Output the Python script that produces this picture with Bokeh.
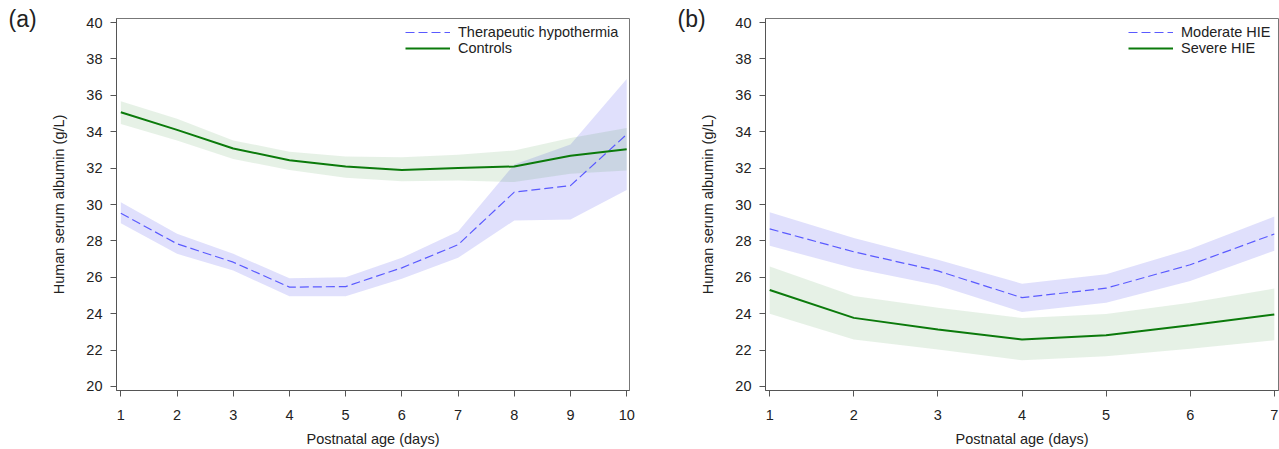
from bokeh.plotting import figure
from bokeh.layouts import row
from bokeh.models import Range1d, Legend, LegendItem, Title, FixedTicker
from bokeh.embed import file_html
from bokeh.resources import INLINE

# ---------------- data ----------------
days_a = [1, 2, 3, 4, 5, 6, 7, 8, 9, 10]
th_mean = [29.52, 27.84, 26.83, 25.46, 25.49, 26.52, 27.79, 30.68, 31.04, 33.85]
th_lo = [28.97, 27.29, 26.37, 24.96, 24.96, 25.92, 27.07, 29.12, 29.18, 30.80]
th_hi = [30.13, 28.39, 27.29, 25.95, 26.00, 27.07, 28.52, 32.20, 33.30, 36.90]
ct_mean = [35.07, 34.10, 33.08, 32.43, 32.09, 31.90, 32.00, 32.09, 32.68, 33.04]
ct_lo = [34.43, 33.52, 32.50, 31.90, 31.47, 31.28, 31.32, 31.23, 31.69, 31.87]
ct_hi = [35.68, 34.71, 33.52, 32.90, 32.64, 32.60, 32.73, 32.97, 33.66, 34.21]

days_b = [1, 2, 3, 4, 5, 6, 7]
mod_mean = [28.66, 27.40, 26.35, 24.88, 25.40, 26.69, 28.38]
mod_lo = [27.73, 26.50, 25.56, 24.09, 24.60, 25.80, 27.46]
mod_hi = [29.57, 28.16, 26.96, 25.65, 26.17, 27.55, 29.34]
sev_mean = [25.30, 23.77, 23.13, 22.58, 22.82, 23.37, 23.96]
sev_lo = [24.00, 22.58, 22.03, 21.44, 21.66, 22.08, 22.54]
sev_hi = [26.59, 24.97, 24.33, 23.77, 23.99, 24.60, 25.38]

y_ticks = [20, 22, 24, 26, 28, 30, 32, 34, 36, 38, 40]
names_a = ["Therapeutic hypothermia", "Controls"]
names_b = ["Moderate HIE", "Severe HIE"]
y_title = "Human serum albumin (g/L)"
x_title = "Postnatal age (days)"
tags = ["(a)", "(b)"]

FONT = "Liberation Sans"
FS = "14.5px"
BLUE = "#5a5aff"
BLUE_FILL = "#6666ee"
GREEN = "#0b7a0b"
GREEN_FILL = "#2e8b2e"
AXIS = "#555555"
TXT = "#222222"
H = 449


def tag_fig(width, text, ox):
    t = Title(text=text, align="left", offset=ox, standoff=-26,
              vertical_align="bottom", text_font=FONT,
              text_font_size="23px", text_font_style="normal",
              text_color=TXT)
    f = figure(width=width, height=H, output_backend="svg",
               toolbar_location=None, x_axis_location=None,
               y_axis_location=None, title=t,
               min_border_left=0, min_border_right=0,
               min_border_top=18, min_border_bottom=0,
               x_range=Range1d(0, 1), y_range=Range1d(0, 1))
    f.outline_line_color = None
    f.grid.visible = False
    return f


def make_panel(days, m1, lo1, hi1, m2, lo2, hi2, names, width, bl, br,
               xr, legend_xy):
    p = figure(width=width, height=H, output_backend="svg",
               toolbar_location=None,
               x_range=Range1d(xr[0], xr[1]), y_range=Range1d(19.78, 40.22),
               min_border_left=bl, min_border_right=br,
               min_border_top=18, min_border_bottom=59)
    p.grid.visible = False
    p.outline_line_color = "#777777"
    p.outline_line_width = 1

    p.varea(x=days, y1=lo1, y2=hi1, fill_color=BLUE_FILL, fill_alpha=0.2)
    p.varea(x=days, y1=lo2, y2=hi2, fill_color=GREEN_FILL, fill_alpha=0.12)
    r1 = p.line(days, m1, line_color=BLUE, line_width=1.2, line_dash="9 4")
    r2 = p.line(days, m2, line_color=GREEN, line_width=2)

    for ax in (p.xaxis[0], p.yaxis[0]):
        ax.axis_line_color = AXIS
        ax.major_tick_line_color = AXIS
        ax.minor_tick_line_color = None
        ax.major_tick_in = 0
        ax.major_tick_out = 6
        ax.major_label_text_font = FONT
        ax.major_label_text_font_size = FS
        ax.major_label_text_color = TXT
        ax.axis_label_text_font = FONT
        ax.axis_label_text_font_size = FS
        ax.axis_label_text_font_style = "normal"
        ax.axis_label_text_color = TXT

    p.xaxis.ticker = FixedTicker(ticks=days)
    p.yaxis.ticker = FixedTicker(ticks=y_ticks)
    p.xaxis.axis_label = x_title
    p.yaxis.axis_label = y_title
    p.xaxis.major_label_standoff = 13
    p.xaxis.axis_label_standoff = 8
    p.yaxis.major_label_standoff = 8
    p.yaxis.axis_label_standoff = 16

    legend = Legend(items=[LegendItem(label=names[0], renderers=[r1]),
                           LegendItem(label=names[1], renderers=[r2])],
                    location=legend_xy, padding=0, margin=0, spacing=0,
                    glyph_width=45, glyph_height=16, label_height=16,
                    label_standoff=8, label_text_font=FONT,
                    label_text_font_size=FS, label_text_color=TXT,
                    border_line_alpha=0, background_fill_alpha=0)
    p.add_layout(legend)
    return p


ta = tag_fig(40, tags[0], 8)
pa = make_panel(days_a, th_mean, th_lo, th_hi, ct_mean, ct_lo, ct_hi,
                names_a, 600, 76, 11, (0.923, 10.05), (289, 334))
tb = tag_fig(65, tags[1], 37)
pb = make_panel(days_b, mod_mean, mod_lo, mod_hi, sev_mean, sev_lo, sev_hi,
                names_b, 582, 64, 1, (0.95, 7.05), (363, 334))
pb.margin = (0, 0, 0, -8)
pb.border_fill_color = None

layout = row(ta, pa, tb, pb)
open("out.html", "w").write(file_html(layout, INLINE))
